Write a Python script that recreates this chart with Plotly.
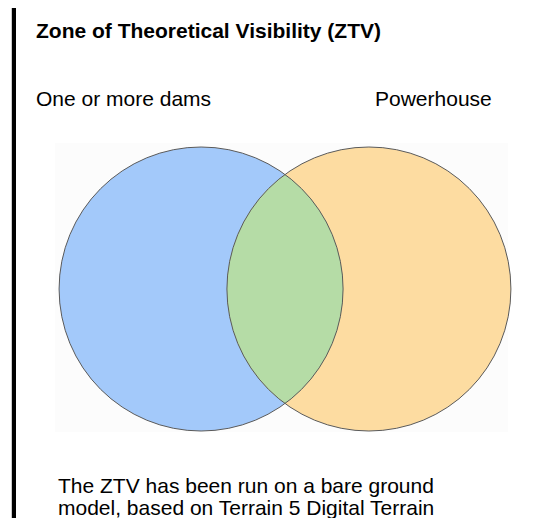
import math
import plotly.graph_objects as go

# ---- data ----
set_labels = ["One or more dams", "Powerhouse"]
set_sizes = [100.0, 100.0]          # relative areas of the two sets
overlap_size = 29.4                  # relative area shared by both sets
set_colors = ["#a3c9fa", "#fddca1"]
overlap_color = "#b5dca6"
title_text = "Zone of Theoretical Visibility (ZTV)"
note_lines = ["The ZTV has been run on a bare ground",
              "model, based on Terrain 5 Digital Terrain"]

W, H = 540, 518
OFF = 8  # page body margin: positions below are page pixels


def px(x):
    return (x - OFF) / W


def py(y):
    return 1 - (y - OFF) / H


# ---- geometry from the data ----
r1 = math.sqrt(set_sizes[0] / math.pi)
r2 = math.sqrt(set_sizes[1] / math.pi)


def lens_area(d, a, b):
    if d >= a + b:
        return 0.0
    if d <= abs(a - b):
        return math.pi * min(a, b) ** 2
    p1 = a * a * math.acos((d * d + a * a - b * b) / (2 * d * a))
    p2 = b * b * math.acos((d * d + b * b - a * a) / (2 * d * b))
    p3 = 0.5 * math.sqrt((-d + a + b) * (d + a - b) * (d - a + b) * (d + a + b))
    return p1 + p2 - p3


lo, hi = abs(r1 - r2) + 1e-9, r1 + r2
for _ in range(100):
    mid = (lo + hi) / 2
    if lens_area(mid, r1, r2) > overlap_size:
        lo = mid
    else:
        hi = mid
dist = (lo + hi) / 2
c1 = (-dist / 2, 0.0)
c2 = (dist / 2, 0.0)

# pixel layout: unit scale so that the radius is ~142 px
ppu = 142.0 / r1
cx_px, cy_px = 285.0 - OFF, 289.0 - OFF
x_range = [-cx_px / ppu, (W - cx_px) / ppu]
y_range = [-(H - cy_px) / ppu, cy_px / ppu]

# lens polygon
xi = (dist * dist + r1 * r1 - r2 * r2) / (2 * dist)
yi = math.sqrt(max(r1 * r1 - xi * xi, 0))
ang1 = math.atan2(yi, xi)
ang2 = math.atan2(yi, xi - dist)
pts = []
N = 120
for k in range(N + 1):
    t = -ang1 + 2 * ang1 * k / N
    pts.append((c1[0] + r1 * math.cos(t), c1[1] + r1 * math.sin(t)))
for k in range(N + 1):
    t = ang2 + (2 * math.pi - 2 * ang2) * k / N
    pts.append((c2[0] + r2 * math.cos(t), c2[1] + r2 * math.sin(t)))
lens_path = "M " + " L ".join(f"{x:.5f},{y:.5f}" for x, y in pts) + " Z"

fig = go.Figure()

shapes = []
# faint panel behind the diagram
shapes.append(dict(type="rect", xref="paper", yref="paper",
                   x0=px(55), x1=px(508), y0=py(432), y1=py(143),
                   fillcolor="#fcfcfc", line=dict(width=0), layer="below"))
for (cx, cy), r, col in zip([c1, c2], [r1, r2], set_colors):
    shapes.append(dict(type="circle", xref="x", yref="y",
                       x0=cx - r, x1=cx + r, y0=cy - r, y1=cy + r,
                       fillcolor=col, line=dict(width=0)))
shapes.append(dict(type="path", xref="x", yref="y", path=lens_path,
                   fillcolor=overlap_color, line=dict(width=0)))
for (cx, cy), r in zip([c1, c2], [r1, r2]):
    shapes.append(dict(type="circle", xref="x", yref="y",
                       x0=cx - r, x1=cx + r, y0=cy - r, y1=cy + r,
                       fillcolor="rgba(0,0,0,0)",
                       line=dict(color="#5a5a5a", width=1)))
# left black border
shapes.append(dict(type="rect", xref="paper", yref="paper",
                   x0=px(11.8), x1=px(16), y0=0, y1=1,
                   fillcolor="#000000", line=dict(width=0)))

FONT = "Arial, 'Liberation Sans', sans-serif"


def ann(text, x_px, base_px, size, anchor="left"):
    return dict(text=text, xref="paper", yref="paper",
                x=px(x_px - 2), y=py(base_px - 0.33 * size),
                xanchor=anchor, yanchor="middle", showarrow=False,
                font=dict(family=FONT, size=size, color="#000000"))


annotations = [
    ann("<b>" + title_text + "</b>", 36, 37.5, 21),
    ann(set_labels[0], 36, 105, 21),
    ann(set_labels[1], 375, 105, 21),
    ann(note_lines[0], 58, 492, 21),
    ann(note_lines[1], 58, 514, 21),
]

fig.update_layout(
    width=W, height=H,
    margin=dict(l=0, r=0, t=0, b=0),
    paper_bgcolor="#ffffff", plot_bgcolor="#ffffff",
    xaxis=dict(range=x_range, visible=False, fixedrange=True),
    yaxis=dict(range=y_range, visible=False, fixedrange=True),
    shapes=shapes, annotations=annotations, showlegend=False,
)

fig.write_html("out.html", config={"displayModeBar": False})
